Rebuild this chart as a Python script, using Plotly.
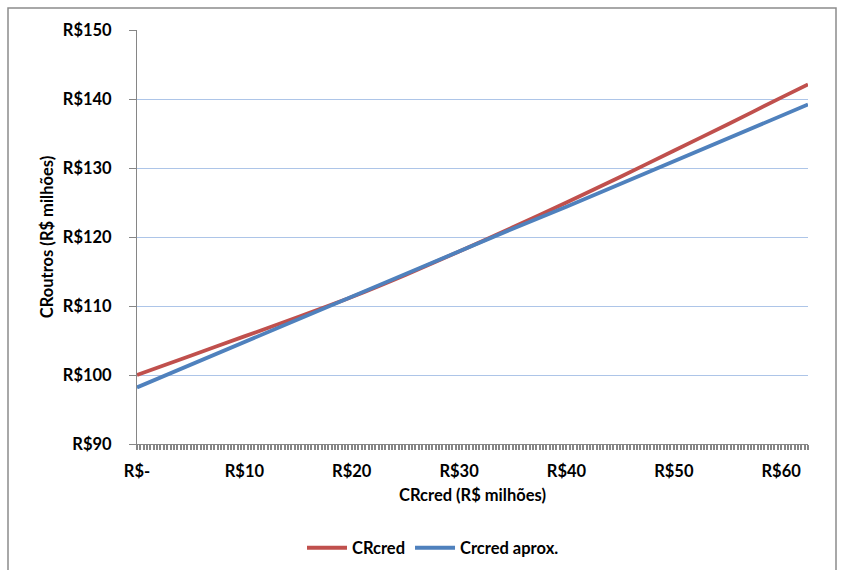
import plotly.graph_objects as go

# CRcred values (R$ milhões) on the horizontal axis
cr_cred = [0, 5, 10, 15, 20, 25, 30, 35, 40, 45, 50, 55, 60, 62.5]
# CRoutros computed with the exact expression
cr_outros_exact = [100.0, 102.8, 105.6, 108.4, 111.3, 114.5, 117.9,
                   121.4, 125.0, 128.7, 132.5, 136.3, 140.2, 142.1]
# CRoutros with the linear approximation
cr_outros_aprox = [98.2, 101.5, 104.8, 108.0, 111.3, 114.6, 117.9,
                   121.2, 124.4, 127.7, 131.0, 134.3, 137.6, 139.2]

x_tick_vals = [0, 10, 20, 30, 40, 50, 60]
x_tick_text = ["R$-", "R$10", "R$20", "R$30", "R$40", "R$50", "R$60"]
y_tick_vals = [90, 100, 110, 120, 130, 140, 150]
y_tick_text = ["R$90", "R$100", "R$110", "R$120", "R$130", "R$140", "R$150"]

FONT = "Lato, 'Noto Sans', sans-serif"
FS = 16.5
AXIS_GREY = "#868686"

fig = go.Figure()
fig.add_trace(go.Scatter(
    x=cr_cred, y=cr_outros_exact, mode="lines", name="CRcred",
    line=dict(color="#C0504D", width=3.8, shape="spline", smoothing=0.6),
))
fig.add_trace(go.Scatter(
    x=cr_cred, y=cr_outros_aprox, mode="lines", name="Crcred aprox.",
    line=dict(color="#4F81BD", width=3.8),
))

W, H = 842, 570
ML, MR, MT, MB = 137, 34, 30, 126
pw, ph = W - ML - MR, H - MT - MB


def px_x(p):
    return (p - ML) / pw


def px_y(p):
    return (H - MB - p) / ph


fig.update_layout(
    width=W, height=H,
    margin=dict(l=ML, r=MR, t=MT, b=MB, autoexpand=False),
    paper_bgcolor="white", plot_bgcolor="white",
    font=dict(family=FONT, size=FS, color="black", weight="bold"),
    showlegend=True,
    legend=dict(
        orientation="h", x=px_x(433), y=px_y(548),
        xanchor="center", yanchor="middle",
        font=dict(family=FONT, size=FS, color="black", weight="bold"),
        itemwidth=40, tracegroupgap=0,
    ),
    xaxis=dict(
        range=[0, 62.5], automargin=False,
        tickmode="array", tickvals=x_tick_vals, ticktext=x_tick_text,
        showgrid=False, zeroline=False,
        showline=True, linecolor=AXIS_GREY, linewidth=1,
        ticks="outside", ticklen=5, tickwidth=2, tickcolor=AXIS_GREY,
        ticklabelstandoff=7,
        minor=dict(tickmode="linear", tick0=0, dtick=0.3125,
                   ticks="outside", ticklen=5, tickwidth=2,
                   tickcolor=AXIS_GREY, showgrid=False),
        tickfont=dict(family=FONT, size=FS, weight="bold"),
        title=dict(text="CRcred (R$ milhões)", standoff=9,
                   font=dict(family=FONT, size=FS, weight="bold")),
    ),
    yaxis=dict(
        range=[90, 150], automargin=False,
        tickmode="array", tickvals=y_tick_vals, ticktext=y_tick_text,
        showgrid=True, gridcolor="#adc5e8", gridwidth=1,
        zeroline=False,
        showline=True, linecolor=AXIS_GREY, linewidth=1,
        ticks="outside", ticklen=7, tickwidth=1, tickcolor=AXIS_GREY,
        ticklabelstandoff=14,
        tickfont=dict(family=FONT, size=FS, weight="bold"),
        title=dict(text="CRoutros (R$ milhões)", standoff=5,
                   font=dict(family=FONT, size=FS, weight="bold")),
    ),
    shapes=[
        dict(type="rect", xref="paper", yref="paper",
             x0=px_x(8), x1=px_x(836), y0=px_y(574), y1=px_y(8),
             line=dict(color="#8c8c8c", width=1.5), layer="below"),
    ],
)

fig.write_html("out.html")
